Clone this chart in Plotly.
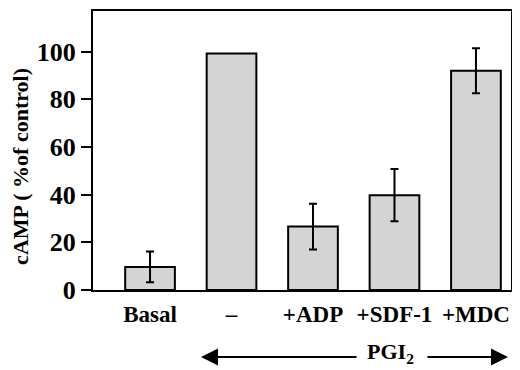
import plotly.graph_objects as go

categories = ["Basal", "–", "+ADP", "+SDF-1", "+MDC"]
values = [9.7, 99.2, 26.6, 39.8, 92.0]
errors = [6.5, None, 9.6, 11.0, 9.4]
y_ticks = [0, 20, 40, 60, 80, 100]
group_label = "PGI<sub>2</sub>"
y_title = "cAMP ( %of control)"

FONT = "Liberation Serif, Times New Roman, serif"

# Page body has an 8px default margin; size the figure to fit inside the window.
W, H = 512, 362
ML, MR, MT, MB = 85, 9, 1, 80
PW, PH = W - ML - MR, H - MT - MB


def px_x(xs):
    return (xs - 8 - ML) / PW


def px_y(ys):
    return (H - MB - (ys - 8)) / PH


fig = go.Figure()
fig.add_trace(go.Bar(
    x=categories, y=values,
    width=0.61,
    marker=dict(color="#d4d4d4", line=dict(color="black", width=2)),
    showlegend=False, hoverinfo="skip",
))
err_x = [c for c, e in zip(categories, errors) if e is not None]
err_y = [v for v, e in zip(values, errors) if e is not None]
err_v = [e for e in errors if e is not None]
fig.add_trace(go.Scatter(
    x=err_x, y=err_y, mode="markers",
    marker=dict(opacity=0, size=1),
    error_y=dict(type="data", array=err_v, visible=True,
                 color="black", thickness=2, width=4),
    showlegend=False,
))

fig.update_layout(
    width=W, height=H,
    margin=dict(l=ML, r=MR, t=MT, b=MB),
    plot_bgcolor="white", paper_bgcolor="white",
    font=dict(family=FONT, size=22, color="black"),
)
fig.update_xaxes(
    range=[-0.70, 4.43],
    showline=True, linecolor="black", linewidth=2, mirror=True,
    ticks="outside", ticklen=2, tickcolor="rgba(0,0,0,0)",
    tickfont=dict(family=FONT, size=23, color="black", weight="bold"),
    showgrid=False, zeroline=False,
)
fig.update_yaxes(
    range=[0, (290 - (MT + 8)) / 2.4],
    tickvals=y_ticks,
    showline=True, linecolor="black", linewidth=2, mirror=True,
    ticks="outside", ticklen=10, tickwidth=2, tickcolor="black",
    tickfont=dict(family=FONT, size=26, color="black", weight="bold"),
    showgrid=False, zeroline=False,
)

# y-axis title
fig.add_annotation(
    text=y_title, xref="paper", yref="paper",
    x=px_x(21), y=px_y(166), textangle=-90,
    showarrow=False, xanchor="center", yanchor="middle",
    font=dict(family=FONT, size=22, color="black", weight="bold"),
)

# PGI2 group label with arrows
fig.add_annotation(
    text=group_label, xref="paper", yref="paper",
    x=px_x(390), y=px_y(353),
    showarrow=False, font=dict(family=FONT, size=22, color="black", weight="bold"),
    xanchor="center", yanchor="middle",
)
ay_paper = px_y(357.5)
fig.add_annotation(
    xref="paper", yref="paper", x=px_x(201), y=ay_paper,
    ax=157, ay=0, text="", showarrow=True,
    arrowhead=2, arrowsize=1.7, arrowwidth=2, arrowcolor="black",
)
fig.add_annotation(
    xref="paper", yref="paper", x=px_x(508), y=ay_paper,
    ax=-82, ay=0, text="", showarrow=True,
    arrowhead=2, arrowsize=1.7, arrowwidth=2, arrowcolor="black",
)

fig.write_html("out.html")
